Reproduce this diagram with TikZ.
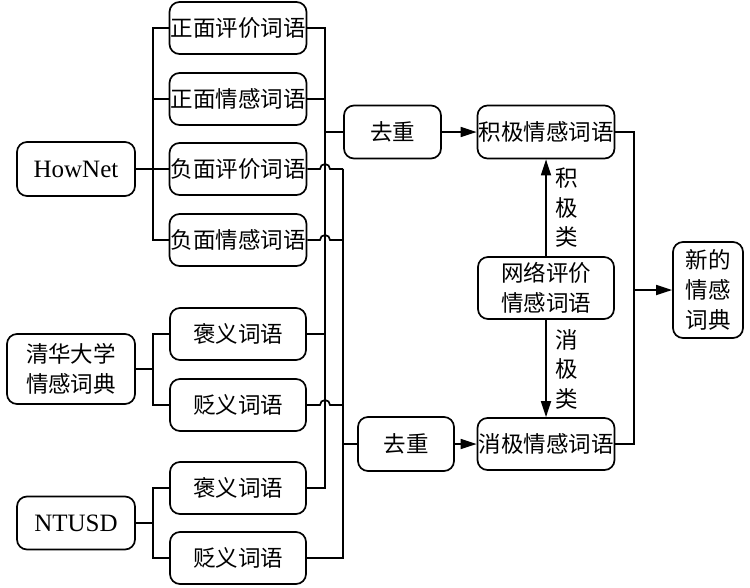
\documentclass[tikz,border=0pt]{standalone}
\usepackage{fontspec}
\setmainfont{Liberation Serif}
\newfontfamily\cjk{Noto Sans CJK SC}
\usetikzlibrary{arrows.meta}

\tikzset{
  box/.style={draw,line width=1.7pt,rounded corners=10pt,inner sep=1pt,
    align=center,font=\cjk\fontsize{22.5}{30}\selectfont},
  word/.style={box,minimum width=136pt,minimum height=52pt},
  src/.style={box,minimum width=118pt,minimum height=54pt,
    font=\rmfamily\fontsize{25}{28}\selectfont},
  line/.style={line width=1.7pt},
  arr/.style={line,-{Triangle[length=16pt,width=10pt]}},
  lab/.style={align=center,font=\cjk\fontsize{22.5}{29.5}\selectfont}
}

\begin{document}
\begin{tikzpicture}[x=1pt,y=-1pt]
    \useasboundingbox (0,0) rectangle (750,587);

    % Sources
    \node[src] (hownet) at (76,169) {HowNet};
    \node[box,minimum width=128pt,minimum height=70pt] (thu) at (71,369) {清华大学\\情感词典};
    \node[src,minimum height=53pt] (ntusd) at (76,523) {NTUSD};

    % Word lists
    \node[word] (w1) at (238,28) {正面评价词语};
    \node[word] (w2) at (238,99) {正面情感词语};
    \node[word] (w3) at (238,169) {负面评价词语};
    \node[word] (w4) at (238,240) {负面情感词语};
    \node[word] (w5) at (238,334) {褒义词语};
    \node[word] (w6) at (238,405) {贬义词语};
    \node[word] (w7) at (238,488) {褒义词语};
    \node[word] (w8) at (238,558) {贬义词语};

    % Merge
    \node[box,minimum width=97pt,minimum height=53pt] (dedupA) at (392.5,132) {去重};
    \node[box,minimum width=96pt,minimum height=54pt] (dedupB) at (406,444) {去重};
    \node[word,minimum height=53pt] (pos) at (546,132) {积极情感词语};
    \node[word,minimum height=62pt] (net) at (546,288) {网络评价\\情感词语};
    \node[word] (neg) at (546,444) {消极情感词语};
    \node[box,minimum width=70pt,minimum height=96pt] (dict) at (708,290) {新的\\情感\\词典};

    % Buses
    \coordinate (lbus) at (153,0);
    \coordinate (pbus) at (325,0);
    \coordinate (nbus) at (343,0);
    \coordinate (rbus) at (634,0);

    % Source to lists
    \draw[line] (hownet.east) -- (w3.west);
    \draw[line] (w1.west) -- (w1.west -| lbus) -- (w4.west -| lbus) -- (w4.west);
    \draw[line] (w2.west) -- (w2.west -| lbus);
    \draw[line] (w5.west) -- (w5.west -| lbus) -- (w6.west -| lbus) -- (w6.west);
    \draw[line] (thu.east) -- (thu.east -| lbus);
    \draw[line] (w7.west) -- (w7.west -| lbus) -- (w8.west -| lbus) -- (w8.west);
    \draw[line] (ntusd.east) -- (ntusd.east -| lbus);

    % Positive lists
    \draw[line] (w1.east) -- (w1.east -| pbus) -- (w7.east -| pbus) -- (w7.east);
    \foreach \w in {w2,w5}
      \draw[line] (\w.east) -- (\w.east -| pbus);
    \draw[line] (dedupA.west) -- (dedupA.west -| pbus);

    % Negative lists, jumping over the positive bus
    \foreach \w in {w3,w4,w6}
      \draw[line] (\w.east) -- ([xshift=-5pt]\w.east -| pbus) arc (180:360:5) -- (\w.east -| nbus);
    \draw[line] (w3.east -| nbus) -- (w8.east -| nbus) -- (w8.east);
    \draw[line] (dedupB.west) -- (dedupB.west -| nbus);

    % Classes
    \draw[arr] (dedupA) -- (pos);
    \draw[arr] (dedupB) -- (neg);
    \draw[arr] (net) -- (pos);
    \draw[arr] (net) -- (neg);
    \node[lab] (posl) at (567,208) {积\\极\\类};
    \node[lab] (negl) at (567,369) {消\\极\\类};

    % Output
    \draw[line] (pos.east) -- (pos.east -| rbus) -- (neg.east -| rbus) -- (neg.east);
    \draw[arr] (dict.west -| rbus) -- (dict.west);
\end{tikzpicture}
\end{document}
